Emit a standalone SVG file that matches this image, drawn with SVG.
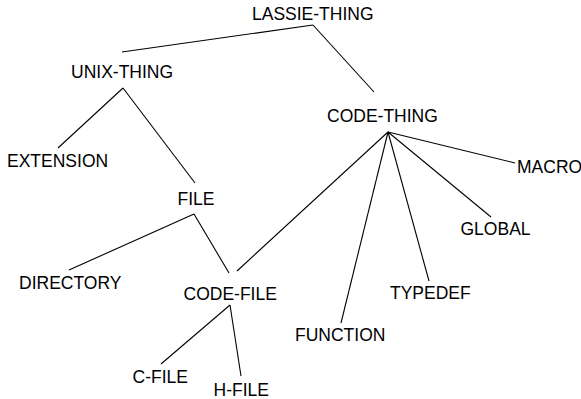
<svg xmlns="http://www.w3.org/2000/svg" width="581" height="399" viewBox="0 0 581 399">
<style>
text{font-family:"Liberation Sans",Arial,sans-serif;font-size:17.5px;fill:#000}
.c line{stroke:#000;stroke-width:1.1}
</style>
<rect width="581" height="399" fill="#fff"/>
<g class="c" id="connectors">
<line x1="313" y1="25" x2="122" y2="52"/>
<line x1="313" y1="25" x2="374" y2="92"/>
<line x1="123" y1="88" x2="58" y2="148"/>
<line x1="123" y1="88" x2="195" y2="183"/>
<line x1="194" y1="214" x2="69" y2="270"/>
<line x1="194" y1="214" x2="229" y2="273"/>
<line x1="230" y1="305" x2="161" y2="364"/>
<line x1="230" y1="305" x2="241" y2="376"/>
<line x1="388" y1="132" x2="515" y2="163"/>
<line x1="388" y1="132" x2="491" y2="217"/>
<line x1="388" y1="132" x2="429" y2="281"/>
<line x1="388" y1="132" x2="341" y2="323"/>
<line x1="388" y1="132" x2="237" y2="271"/>
</g>
<g id="lassie-thing"><text x="252" y="20">LASSIE-THING</text></g>
<g id="unix-thing"><text x="71" y="78">UNIX-THING</text></g>
<g id="extension"><text x="7" y="167">EXTENSION</text></g>
<g id="file"><text x="177.5" y="205">FILE</text></g>
<g id="directory"><text x="19" y="288.5">DIRECTORY</text></g>
<g id="code-file"><text x="183.5" y="299.5">CODE-FILE</text></g>
<g id="c-file"><text x="132.5" y="382.5">C-FILE</text></g>
<g id="h-file"><text x="213.5" y="395.5">H-FILE</text></g>
<g id="code-thing"><text x="327" y="122">CODE-THING</text></g>
<g id="macro"><text x="517" y="173">MACRO</text></g>
<g id="global"><text x="460.5" y="235">GLOBAL</text></g>
<g id="typedef"><text x="390" y="299">TYPEDEF</text></g>
<g id="function"><text x="295" y="341">FUNCTION</text></g>
</svg>
